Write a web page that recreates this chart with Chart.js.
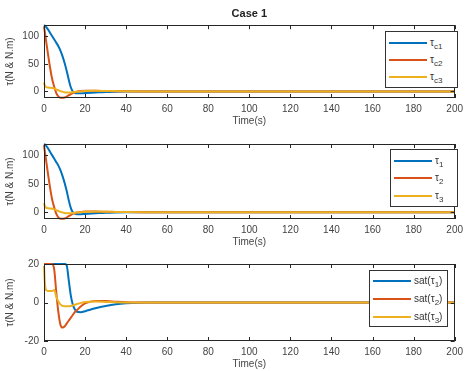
<!DOCTYPE html>
<html lang="en-US">
<head>
<meta charset="utf-8">
<title>Case 1</title>
<script src="https://cdn.jsdelivr.net/npm/chart.js@4"></script>
<style>
  body { margin: 0; background: #fff; }
  #wrap { position: relative; width: 468px; height: 371px; overflow: hidden; font-family: "Liberation Sans", Arial, sans-serif; }
  canvas { position: absolute; left: 0; }
  .leg { position: absolute; background: #fff; border: 1px solid #333; font-size: 10px; color: #333; }
  .row { position: absolute; left: 3px; height: 12px; white-space: nowrap; }
  .row i { display: inline-block; width: 38px; height: 2px; vertical-align: middle; margin-right: 3px; }
  .row sub { font-size: 8px; }
</style>
</head>
<body>
<div id="wrap">
  <canvas id="c1" width="468" height="128" style="top:0"></canvas>
  <canvas id="c2" width="468" height="123" style="top:126px"></canvas>
  <canvas id="c3" width="468" height="122" style="top:249px"></canvas>

  <div class="leg" style="left:385px; top:31px; width:71px; height:55px;">
    <div class="row" style="top:5px"><i style="background:#0072BD"></i>&tau;<sub>c1</sub></div>
    <div class="row" style="top:22px"><i style="background:#D95319"></i>&tau;<sub>c2</sub></div>
    <div class="row" style="top:39px"><i style="background:#EDB120"></i>&tau;<sub>c3</sub></div>
  </div>
  <div class="leg" style="left:390px; top:149px; width:66px; height:56px;">
    <div class="row" style="top:5px"><i style="background:#0072BD"></i>&tau;<sub>1</sub></div>
    <div class="row" style="top:22px"><i style="background:#D95319"></i>&tau;<sub>2</sub></div>
    <div class="row" style="top:40px"><i style="background:#EDB120"></i>&tau;<sub>3</sub></div>
  </div>
  <div class="leg" style="left:369px; top:270px; width:77px; height:55px;">
    <div class="row" style="top:4px"><i style="background:#0072BD"></i>sat(&tau;<sub>1</sub>)</div>
    <div class="row" style="top:22px"><i style="background:#D95319"></i>sat(&tau;<sub>2</sub>)</div>
    <div class="row" style="top:40px"><i style="background:#EDB120"></i>sat(&tau;<sub>3</sub>)</div>
  </div>
</div>

<script>
// time samples (s)
const time = [0, 0.5, 1, 2, 3, 4, 5, 6, 7, 8, 9, 10, 11, 12, 13, 14, 15, 16, 18, 20, 25, 30, 35, 40, 50, 60, 100, 200];

// commanded torques
const tauC1 = [120, 119, 117, 112, 106, 100, 94, 88, 82, 74, 64, 52, 38, 22, 8, 0, -2.5, -3.5, -3.5, -3, -2, -1, -0.5, -0.2, 0, 0, 0, 0];
const tauC2 = [118, 105, 92, 66, 42, 22, 8, -3, -9, -11.5, -11.5, -11, -9.5, -7, -5, -3, -1.5, -0.5, 0.5, 1, 1, 0.6, 0.3, 0.1, 0, 0, 0, 0];
const tauC3 = [16, 10, 8, 7, 6.5, 6, 5, 3.5, 2, 0.5, -0.5, -1.5, -2, -2, -2, -1.5, -1, -0.5, 0, 0.5, 1, 0.8, 0.5, 0.2, 0, 0, 0, 0];

// applied torques
const tau1 = [120, 119, 117, 112, 106, 100, 94, 88, 82, 74, 64, 52, 38, 22, 8, 0, -2.5, -3.5, -3.5, -3, -2, -1, -0.5, -0.2, 0, 0, 0, 0];
const tau2 = [118, 105, 92, 66, 42, 22, 8, -3, -9, -11.5, -11.5, -11, -9.5, -7, -5, -3, -1.5, -0.5, 0.5, 1, 1, 0.6, 0.3, 0.1, 0, 0, 0, 0];
const tau3 = [16, 10, 8, 7, 6.5, 6, 5, 3.5, 2, 0.5, -0.5, -1.5, -2, -2, -2, -1.5, -1, -0.5, 0, 0.5, 1, 0.8, 0.5, 0.2, 0, 0, 0, 0];

// saturated torques
const sat1 = [20, 20, 20, 20, 20, 20, 20, 20, 20, 20, 20, 20, 19.5, 12, 4, -1, -3.5, -4.8, -5, -4.5, -3, -1.8, -0.9, -0.4, 0, 0, 0, 0];
const sat2 = [20, 20, 20, 20, 20, 20, 17, 5, -5, -11.5, -13, -12.5, -11, -9.5, -8, -6.5, -5, -4, -2, -0.5, 0.8, 0.8, 0.4, 0.1, 0, 0, 0, 0];
const sat3 = [19, 9, 6.5, 6, 6, 6, 6.5, 3, 0.5, -1, -1.8, -2, -2, -2, -1.8, -1.5, -1.2, -0.8, -0.2, 0.3, 0.5, 0.3, 0.1, 0, 0, 0, 0, 0];

const xTicks = [0, 20, 40, 60, 80, 100, 120, 140, 160, 180, 200];
const yTicksTop = [0, 50, 100];
const yTicksSat = [-20, 0, 20];

const colors = ['#0072BD', '#D95319', '#EDB120'];
const axisColor = '#262626';
const textColor = '#444';

// MATLAB-ish box with inward ticks
const boxPlugin = {
  id: 'box',
  afterDraw(chart) {
    const { ctx, chartArea: a, scales: { x, y } } = chart;
    ctx.save();
    ctx.strokeStyle = axisColor;
    ctx.lineWidth = 1;
    ctx.strokeRect(Math.round(a.left) + 0.5, Math.round(a.top) + 0.5, Math.round(a.width) - 1, Math.round(a.height) - 1);
    ctx.beginPath();
    x.ticks.forEach(t => {
      const px = Math.round(x.getPixelForValue(t.value)) + 0.5;
      ctx.moveTo(px, a.bottom); ctx.lineTo(px, a.bottom - 4);
      ctx.moveTo(px, a.top); ctx.lineTo(px, a.top + 4);
    });
    y.ticks.forEach(t => {
      const py = Math.round(y.getPixelForValue(t.value)) + 0.5;
      ctx.moveTo(a.left, py); ctx.lineTo(a.left + 4, py);
      ctx.moveTo(a.right, py); ctx.lineTo(a.right - 4, py);
    });
    ctx.stroke();
    ctx.restore();
  }
};

function makeChart(id, series, yMin, yMax, yTicks, padTop, title) {
  const datasets = series.map((s, i) => ({
    data: time.map((t, k) => ({ x: t, y: s[k] })),
    borderColor: colors[i],
    borderWidth: 2,
    pointRadius: 0,
    cubicInterpolationMode: 'monotone',
    clip: 3,
    fill: false
  })).reverse();

  new Chart(document.getElementById(id), {
    type: 'line',
    data: { datasets },
    options: {
      responsive: false,
      animation: false,
      layout: { padding: { top: padTop, right: 3, left: 0, bottom: 0 } },
      plugins: {
        legend: { display: false },
        tooltip: { enabled: false },
        title: {
          display: !!title,
          text: title || '',
          fullSize: false,
          color: '#222',
          font: { family: 'Liberation Sans, Arial, sans-serif', size: 11, weight: 'bold' },
          padding: { top: 7, bottom: 5 }
        }
      },
      scales: {
        x: {
          type: 'linear',
          min: 0, max: 200,
          afterBuildTicks: s => { s.ticks = xTicks.map(v => ({ value: v })); },
          afterFit: s => { s.height = 30; },
          grid: { display: false, drawTicks: false },
          border: { display: false },
          ticks: { color: textColor, padding: 5, maxRotation: 0, font: { family: 'Liberation Sans, Arial, sans-serif', size: 10 } },
          title: { display: true, text: 'Time(s)', color: textColor, padding: { top: 0, bottom: 1 }, font: { family: 'Liberation Sans, Arial, sans-serif', size: 10 } }
        },
        y: {
          min: yMin, max: yMax,
          afterBuildTicks: s => { s.ticks = yTicks.map(v => ({ value: v })); },
          afterFit: s => { s.width = 44; },
          grid: { display: false, drawTicks: false },
          border: { display: false },
          ticks: { color: textColor, padding: 5, font: { family: 'Liberation Sans, Arial, sans-serif', size: 10 } },
          title: { display: true, text: '\u03c4(N & N.m)', color: textColor, padding: { top: 4, bottom: 0 }, font: { family: 'Liberation Sans, Arial, sans-serif', size: 10 } }
        }
      }
    },
    plugins: [boxPlugin]
  });
}

makeChart('c1', [tauC1, tauC2, tauC3], -12, 120, yTicksTop, 0, 'Case 1');
makeChart('c2', [tau1, tau2, tau3], -12, 120, yTicksTop, 18, null);
makeChart('c3', [sat1, sat2, sat3], -20, 20, yTicksSat, 15, null);
</script>
</body>
</html>
